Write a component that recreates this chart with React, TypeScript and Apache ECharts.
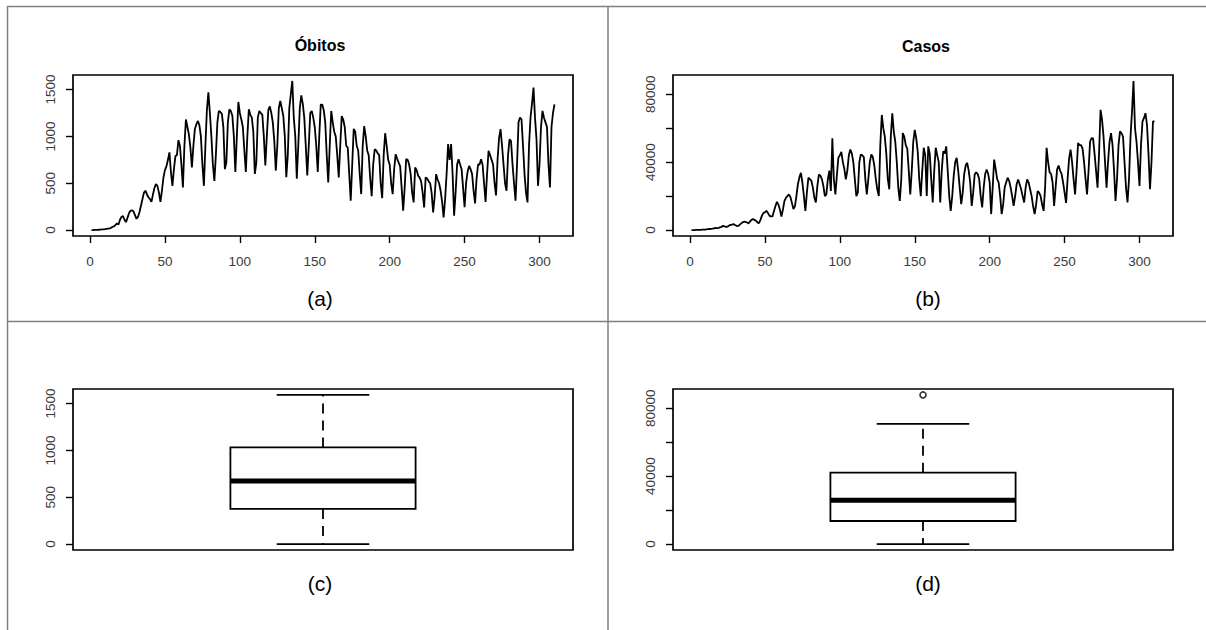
import React, { useEffect, useRef } from "react";
import * as echarts from "echarts";

// Daily deaths (Óbitos), day 1..310
const obitos: number[] = [
  0, 0, 1, 1, 2, 3, 4, 6, 7, 9,
  12, 15, 18, 22, 35, 40, 55, 70, 60, 110,
  140, 150, 110, 85, 130, 180, 205, 210, 200, 160,
  120, 140, 190, 260, 330, 400, 420, 380, 350, 330,
  300, 380, 450, 490, 470, 400, 300, 420, 560, 640,
  680, 750, 830, 620, 470, 650, 790, 800, 960, 900,
  700, 455, 900, 1180, 1100, 1020, 880, 668, 900, 1080,
  1130, 1165, 1120, 1000, 700, 472, 900, 1280, 1470, 1250,
  1000, 700, 525, 800, 1150, 1272, 1260, 1240, 1100, 650,
  720, 1150, 1290, 1270, 1220, 1000, 620, 1000, 1368, 1250,
  1180, 1100, 850, 620, 1000, 1290, 1230, 1200, 1050, 600,
  720, 1200, 1272, 1250, 1230, 1000, 690, 1000, 1280, 1320,
  1250, 1150, 950, 635, 900, 1300, 1378, 1300, 1220, 1000,
  565, 800, 1300, 1450, 1592, 1200, 1000, 548, 900, 1300,
  1439, 1350, 1200, 900, 583, 900, 1250, 1272, 1200, 1100,
  900, 620, 1000, 1340, 1340, 1280, 1150, 800, 508, 900,
  1272, 1150, 1050, 1000, 800, 562, 900, 1218, 1180, 1100,
  900, 880, 600, 313, 700, 1080, 1050, 900, 850, 600,
  384, 900, 1110, 1000, 850, 800, 550, 362, 700, 863,
  850, 820, 800, 500, 340, 800, 1034, 900, 750, 700,
  500, 384, 650, 810, 760, 720, 680, 450, 206, 450,
  757, 750, 700, 600, 400, 295, 668, 640, 580, 560,
  520, 400, 242, 562, 550, 520, 500, 400, 188, 350,
  597, 540, 500, 420, 300, 135, 330, 600, 917, 750,
  917, 600, 152, 400, 700, 757, 700, 650, 450, 245,
  500, 620, 685, 650, 600, 420, 285, 550, 700, 700,
  757, 700, 500, 300, 600, 845, 800, 750, 700, 500,
  370, 750, 980, 1077, 900, 700, 500, 420, 800, 970,
  950, 700, 500, 313, 700, 1150, 1201, 1180, 900, 600,
  400, 295, 900, 1200, 1350, 1521, 1200, 970, 472, 700,
  1100, 1272, 1200, 1150, 1100, 700, 455, 1100, 1250, 1343,
];

// Daily cases (Casos), day 1..310
const casos: number[] = [
  0, 0, 0, 50, 50, 100, 150, 200, 250, 300,
  400, 500, 600, 700, 800, 1000, 1200, 1100, 1300, 1600,
  1800, 2500, 2200, 1800, 2000, 2600, 3000, 3200, 3500, 3000,
  2500, 2300, 3000, 3800, 4500, 4900, 4800, 4500, 3800, 5000,
  6000, 6400, 6000, 5500, 4500, 4000, 6000, 8500, 10000, 10500,
  11300, 10000, 8500, 8000, 8000, 11000, 14000, 16600, 15000, 12000,
  8000, 12000, 17000, 19000, 20000, 21000, 19500, 16000, 12300, 14000,
  20000, 27000, 31000, 33700, 28000, 20000, 11300, 22000, 30800, 30000,
  29000, 25000, 19000, 16200, 26000, 32700, 32000, 30000, 26000, 20000,
  21000, 30000, 35000, 23000, 54000, 30000, 21000, 32000, 42500, 44000,
  46000, 40000, 36000, 29800, 35000, 44000, 47400, 45000, 40000, 30000,
  20000, 22000, 40000, 44500, 44000, 43000, 30000, 21000, 30000, 40000,
  44500, 43000, 38000, 30000, 24000, 20000, 50000, 67800, 60000, 55000,
  45000, 30000, 24000, 55000, 68800, 58000, 52000, 40000, 25000, 17100,
  30000, 57100, 55000, 50000, 48000, 35000, 21000, 35000, 52000, 59000,
  54000, 46000, 30000, 20000, 35000, 48500, 44000, 20000, 49300, 45000,
  30000, 16200, 35000, 48500, 44000, 40000, 16200, 35000, 46400, 45000,
  49300, 35000, 20000, 11300, 20000, 32000, 40000, 42500, 35000, 25000,
  15200, 22000, 33000, 38000, 39600, 35000, 28000, 14200, 22000, 32800,
  34000, 33000, 30000, 20000, 13300, 25000, 33000, 35700, 33000, 28000,
  9400, 25000, 41500, 36000, 30000, 28000, 20000, 9400, 15000, 25000,
  28000, 30800, 29000, 25000, 20000, 14200, 20000, 27000, 29800, 27000,
  24000, 20000, 16200, 25000, 29800, 28000, 24000, 20000, 14000, 9400,
  15000, 23000, 22000, 20000, 15000, 11300, 25000, 48400, 40000, 34000,
  33000, 28000, 14200, 25000, 35700, 38000, 35000, 33000, 28000, 22000,
  16000, 30000, 42000, 47400, 40000, 30000, 21000, 35000, 51300, 50000,
  50000, 48000, 40000, 30000, 21000, 35000, 52000, 54200, 54000, 45000,
  35000, 25000, 45000, 70800, 65000, 55000, 40000, 25000, 40000, 52000,
  57100, 50000, 35000, 17100, 30000, 50000, 58100, 57000, 55000, 40000,
  25000, 16200, 30000, 55000, 70000, 87800, 60000, 52000, 40000, 26000,
  50000, 64000, 66000, 68800, 62000, 45000, 24000, 40000, 64000, 64000,
];

// Boxplot statistics: [lower whisker, Q1, median, Q3, upper whisker]
const obitosBox: number[] = [0, 375, 672, 1032, 1592];
const casosBox: number[] = [0, 13560, 25760, 42030, 70740];
const casosOutliers: number[] = [87800];

const xTicks: number[] = [0, 50, 100, 150, 200, 250, 300];
const obitosTicks: number[] = [0, 500, 1000, 1500];
const casosTicks: number[] = [0, 20000, 40000, 60000, 80000];
const casosTickLabels: number[] = [0, 40000, 80000];

const titles: string[] = ["Óbitos", "Casos"];
const panelLabels: string[] = ["(a)", "(b)", "(c)", "(d)"];

const FONT = '"Liberation Sans", Arial, Helvetica, sans-serif';

export default function App() {
  const ref = useRef<HTMLDivElement>(null);

  useEffect(() => {
    const el = ref.current;
    if (!el) return;
    const chart = echarts.init(el, null, { renderer: "svg" });

    const n = obitos.length;
    const xRange = [1 - 0.04 * (n - 1), n + 0.04 * (n - 1)];
    const ext = (arr: number[]) => {
      const mx = Math.max(...arr);
      const mn = Math.min(...arr);
      const p = 0.04 * (mx - mn);
      return [mn - p, mx + p];
    };
    const obR = ext([...obitos, ...obitosBox]);
    const caR = ext([...casos, ...casosBox, ...casosOutliers]);

    const gridBase = {
      show: true,
      borderColor: "#000",
      borderWidth: 1.7,
      backgroundColor: "transparent",
      width: 500,
      height: 161,
    };

    const tickStyle = { color: "#000", width: 1.4 };
    const labelStyle = { fontSize: 13.5, color: "#3a3a3a", fontFamily: FONT };

    const lineX = (gi: number) => ({
      gridIndex: gi,
      type: "value",
      position: "bottom",
      min: xRange[0],
      max: xRange[1],
      axisLine: { show: false, onZero: false },
      splitLine: { show: false },
      axisTick: { show: true, customValues: xTicks, length: 7, lineStyle: tickStyle },
      axisLabel: { customValues: xTicks, margin: 18, ...labelStyle, formatter: (v: number) => String(v) },
    });

    const boxX = (gi: number) => ({
      gridIndex: gi,
      type: "value",
      min: 0.46,
      max: 1.54,
      show: false,
      axisLine: { onZero: false },
      splitLine: { show: false },
    });

    const yAx = (gi: number, r: number[], ticks: number[], labels: number[]) => ({
      gridIndex: gi,
      type: "value",
      position: "left",
      min: r[0],
      max: r[1],
      axisLine: { show: false, onZero: false },
      splitLine: { show: false },
      axisTick: { show: true, customValues: ticks, length: 7, lineStyle: tickStyle },
      axisLabel: {
        customValues: labels,
        rotate: 90,
        margin: 16,
        ...labelStyle,
        formatter: (v: number) => String(v),
      },
    });

    const renderBox = (params: any, api: any) => {
      const x = api.value(0);
      const lo = api.value(1);
      const q1 = api.value(2);
      const med = api.value(3);
      const q3 = api.value(4);
      const hi = api.value(5);
      const tl = api.coord([x - 0.2, q3]);
      const br = api.coord([x + 0.2, q1]);
      const mL = api.coord([x - 0.2, med]);
      const mR = api.coord([x + 0.2, med]);
      const top = api.coord([x, hi]);
      const bot = api.coord([x, lo]);
      const capL = api.coord([x - 0.1, hi])[0];
      const capR = api.coord([x + 0.1, hi])[0];
      const solid = { stroke: "#000", lineWidth: 1.8, fill: "none" };
      const dashed = { stroke: "#000", lineWidth: 1.8, lineDash: [10, 7], fill: "none" };
      return {
        type: "group",
        children: [
          { type: "line", shape: { x1: top[0], y1: tl[1], x2: top[0], y2: top[1] }, style: dashed },
          { type: "line", shape: { x1: bot[0], y1: br[1], x2: bot[0], y2: bot[1] }, style: dashed },
          { type: "line", shape: { x1: capL, y1: top[1], x2: capR, y2: top[1] }, style: solid },
          { type: "line", shape: { x1: capL, y1: bot[1], x2: capR, y2: bot[1] }, style: solid },
          {
            type: "rect",
            shape: { x: tl[0], y: tl[1], width: br[0] - tl[0], height: br[1] - tl[1] },
            style: { stroke: "#000", lineWidth: 1.8, fill: "#fff" },
          },
          { type: "line", shape: { x1: mL[0], y1: mL[1], x2: mR[0], y2: mR[1] }, style: { stroke: "#000", lineWidth: 5 } },
        ],
      };
    };

    const border = { stroke: "#808080", lineWidth: 1.5 };
    const txt = (text: string, x: number, y: number, size: number, weight: string) => ({
      type: "text",
      x,
      y,
      style: {
        text,
        fill: "#000",
        fontSize: size,
        fontWeight: weight,
        fontFamily: FONT,
        align: "center",
        verticalAlign: "middle",
        textAlign: "center",
        textVerticalAlign: "middle",
      },
    });

    const option: any = {
      animation: false,
      backgroundColor: "#fff",
      grid: [
        { ...gridBase, left: 73, top: 75 },
        { ...gridBase, left: 673, top: 75 },
        { ...gridBase, left: 73, top: 389 },
        { ...gridBase, left: 673, top: 389 },
      ],
      xAxis: [lineX(0), lineX(1), boxX(2), boxX(3)],
      yAxis: [
        yAx(0, obR, obitosTicks, obitosTicks),
        yAx(1, caR, casosTicks, casosTickLabels),
        yAx(2, obR, obitosTicks, obitosTicks),
        yAx(3, caR, casosTicks, casosTickLabels),
      ],
      series: [
        {
          name: titles[0],
          type: "line",
          xAxisIndex: 0,
          yAxisIndex: 0,
          data: obitos.map((v, i) => [i + 1, v]),
          showSymbol: false,
          lineStyle: { color: "#000", width: 1.8 },
          itemStyle: { color: "#000" },
        },
        {
          name: titles[1],
          type: "line",
          xAxisIndex: 1,
          yAxisIndex: 1,
          data: casos.map((v, i) => [i + 1, v]),
          showSymbol: false,
          lineStyle: { color: "#000", width: 1.8 },
          itemStyle: { color: "#000" },
        },
        {
          type: "custom",
          xAxisIndex: 2,
          yAxisIndex: 2,
          renderItem: renderBox,
          encode: { x: 0, y: [1, 2, 3, 4, 5] },
          data: [[1, ...obitosBox]],
        },
        {
          type: "custom",
          xAxisIndex: 3,
          yAxisIndex: 3,
          renderItem: renderBox,
          encode: { x: 0, y: [1, 2, 3, 4, 5] },
          data: [[1, ...casosBox]],
        },
        {
          type: "scatter",
          xAxisIndex: 3,
          yAxisIndex: 3,
          symbol: "circle",
          symbolSize: 6,
          itemStyle: { color: "#fff", borderColor: "#000", borderWidth: 1.6 },
          data: casosOutliers.map((v) => [1, v]),
        },
      ],
      graphic: [
        { type: "line", shape: { x1: 7, y1: 6.5, x2: 1206, y2: 6.5 }, style: border },
        { type: "line", shape: { x1: 7.5, y1: 6, x2: 7.5, y2: 630 }, style: border },
        { type: "line", shape: { x1: 608, y1: 6, x2: 608, y2: 630 }, style: border },
        { type: "line", shape: { x1: 7, y1: 321.5, x2: 1206, y2: 321.5 }, style: border },
        txt(titles[0], 320, 45, 16, "bold"),
        txt(titles[1], 926, 46, 16, "bold"),
        txt(panelLabels[0], 320, 298, 21, "normal"),
        txt(panelLabels[1], 928, 298, 21, "normal"),
        txt(panelLabels[2], 320, 583, 21, "normal"),
        txt(panelLabels[3], 928, 583, 21, "normal"),
      ],
    };

    chart.setOption(option);
    return () => {
      chart.dispose();
    };
  }, []);

  return (
    <div
      ref={ref}
      style={{ position: "fixed", left: 0, top: 0, width: 1206, height: 630, background: "#fff" }}
    />
  );
}
